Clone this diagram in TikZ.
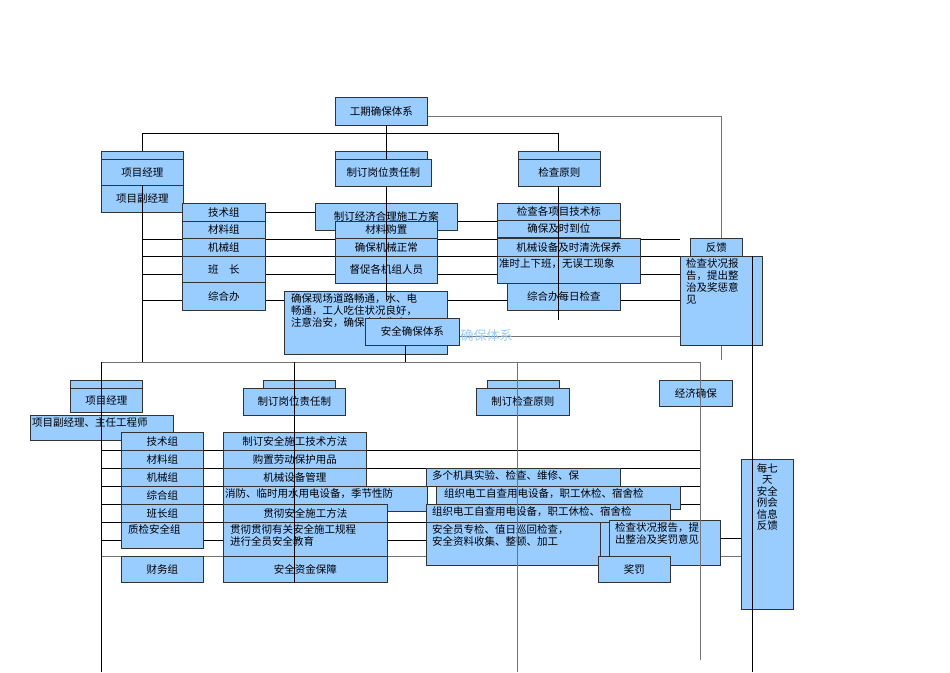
\documentclass[tikz,border=0pt]{standalone}
\usepackage{fontspec}
\newfontfamily\cjk{Noto Sans CJK SC}
\begin{document}
\begin{tikzpicture}[x=1pt,y=-1pt,
  box/.style={draw=black!80,line width=0.8pt,fill=bfill,anchor=north west,inner sep=1pt,font=\cjk\fontsize{10.5}{11}\selectfont},
  lab/.style={anchor=north west,font=\cjk\fontsize{10.5}{12}\selectfont,align=left,inner sep=2pt},
  ln/.style={draw=black,line width=0.7pt},
  gl/.style={draw=black!55,line width=0.9pt}]
\definecolor{bfill}{HTML}{99CCFF}
\newcommand\bx[6]{\node[box,minimum width={#4pt-#2pt},minimum height={#5pt-#3pt}] (#1) at (#2,#3) {#6};}
\newcommand\bxt[7]{\node[box,minimum width={#4pt-#2pt},minimum height={#5pt-#3pt},label={[lab]north west:{#7}}] (#1) at (#2,#3) {#6};}
\useasboundingbox (0,0) rectangle (950,672);
% horizontal lines (behind)
\draw[ln] (142,133) -- (558,133);
\draw[ln] (265,212) -- (315,212);
\draw[ln] (457,221) -- (497,221);
\foreach \y in {239,256,274,300} \draw[ln] (142,\y) -- (680,\y);
\draw[ln] (620,256) -- (762,256);
\draw[gl] (459,336) -- (752,336);
\draw[gl] (427,116) -- (721,116) -- (721,360);
\draw[gl] (101,362) -- (700,362);
\foreach \y in {450,468,486,504,522,540} \draw[ln] (101,\y) -- (700,\y);
\draw[ln] (720,538) -- (741,538);
\draw[gl] (101,556) -- (752,556);
% top boxes
\bx{zz1}{101}{151}{183}{160}{}
\bx{pm1}{101}{159}{183}{185}{项目经理}
\bx{vpm1}{101}{185}{183}{212}{项目副经理}
\bx{top}{335}{97}{427}{125}{工期确保体系}
\bx{gz1}{335}{151}{427}{160}{}
\bx{gw1}{335}{159}{431}{186}{制订岗位责任制}
\bx{jc1}{518}{151}{600}{160}{}
\bx{jy1}{518}{159}{600}{186}{检查原则}
\bx{a1}{182}{203}{265}{221}{技术组}
\bx{a2}{182}{221}{265}{238}{材料组}
\bx{a3}{182}{238}{265}{256}{机械组}
\bx{a4}{182}{256}{265}{282}{班\quad 长}
\bx{a5}{182}{282}{265}{310}{综合办}
\bx{b1}{315}{203}{457}{230}{制订经济合理施工方案}
\bx{b2}{335}{221}{437}{238}{材料购置}
\bx{b3}{335}{238}{437}{256}{确保机械正常}
\bx{b4}{335}{256}{437}{283}{督促各机组人员}
\bxt{b5}{284}{291}{447}{354}{}{\hspace{5pt}确保现场道路畅通，水、电\\\hspace{5pt}畅通，工人吃住状况良好，\\\hspace{5pt}注意治安，确保安全生产}
\bx{aq}{365}{318}{459}{345}{安全确保体系}
\node[font=\cjk\fontsize{13}{13}\selectfont,text=bfill,anchor=west] (wm) at (457,336) {确保体系};
\bx{c1}{497}{203}{620}{220}{检查各项目技术标}
\bx{c2}{497}{220}{620}{237}{确保及时到位}
\bx{c3}{497}{238}{640}{256}{机械设备及时清洗保养}
\bxt{c4}{497}{256}{640}{283}{}{准时上下班，无误工现象}
\bx{c5}{507}{283}{620}{310}{综合办每日检查}
\bx{fk}{690}{238}{742}{256}{反馈}
\bxt{fk2}{680}{256}{762}{345}{}{\hspace{4pt}检查状况报\\\hspace{4pt}告，提出整\\\hspace{4pt}治及奖惩意\\\hspace{4pt}见}
% bottom boxes
\bx{zz2}{70}{380}{142}{389}{}
\bx{pm2}{70}{388}{142}{412}{项目经理}
\bxt{vpm2}{30}{415}{173}{440}{}{项目副经理、主任工程师}
\bx{d1}{121}{432}{203}{450}{技术组}
\bx{d2}{121}{450}{203}{468}{材料组}
\bx{d3}{121}{468}{203}{486}{机械组}
\bx{d4}{121}{486}{203}{504}{综合组}
\bx{d5}{121}{504}{203}{522}{班长组}
\bxt{d6}{121}{522}{203}{548}{}{\hspace{5pt}质检安全组}
\bx{d7}{121}{556}{203}{582}{财务组}
\bx{gz2}{263}{380}{335}{389}{}
\bx{gw2}{243}{388}{345}{415}{制订岗位责任制}
\bx{e1}{223}{432}{366}{450}{制订安全施工技术方法}
\bx{e2}{223}{450}{366}{468}{购置劳动保护用品}
\bx{e3}{223}{468}{366}{486}{机械设备管理}
\bxt{e4}{223}{486}{427}{511}{}{消防、临时用水用电设备，季节性防}
\bx{e5}{223}{504}{387}{522}{贯彻安全施工方法}
\bxt{e6}{223}{522}{387}{556}{}{\hspace{5pt}贯彻贯彻有关安全施工规程\\\hspace{5pt}进行全员安全教育}
\bx{e7}{223}{556}{387}{582}{安全资金保障}
\bx{jc2}{487}{380}{559}{389}{}
\bx{jy2}{476}{388}{569}{415}{制订检查原则}
\bx{jj}{659}{380}{732}{406}{经济确保}
\bx{f0}{426}{522}{720}{565}{}
\bxt{f1}{426}{468}{620}{486}{}{\hspace{4pt}多个机具实验、检查、维修、保}
\bxt{f2}{436}{486}{680}{509}{}{\hspace{6pt}组织电工自查用电设备，职工休检、宿舍检}
\bxt{f3}{426}{504}{670}{522}{}{\hspace{4pt}组织电工自查用电设备，职工休检、宿舍检}
\bxt{f4}{426}{522}{600}{565}{}{\hspace{4pt}安全员专检、值日巡回检查，\\\hspace{4pt}安全资料收集、整顿、加工}
\bxt{f5}{609}{520}{720}{565}{}{\hspace{4pt}检查状况报告，提\\\hspace{4pt}出整治及奖罚意见}
\bx{f6}{598}{556}{670}{582}{奖罚}
\node[box,minimum width=52pt,minimum height=150pt,label={[anchor=north,font=\cjk\fontsize{10.5}{11.5}\selectfont,align=center,inner sep=4pt]north:{每七\\天\\安全\\例会\\信息\\反馈}}] (wk) at (741,459) {};
% vertical lines (over)
\draw[ln] (386,125) -- (386,133) (386,133) -- (386,159);
\draw[ln] (142,133) -- (142,151);
\draw[ln] (558,133) -- (558,151);
\draw[ln] (386,186) -- (386,300);
\draw[ln] (558,186) -- (558,320);
\draw[ln] (142,185) -- (142,362);
\draw[ln] (405,345) -- (405,362);
\draw[ln] (101,362) -- (101,672);
\draw[ln] (294,362) -- (294,582);
\draw[gl] (517,362) -- (517,672);
\draw[gl] (700,362) -- (700,660);
\draw[ln] (752,256) -- (752,672);
\end{tikzpicture}
\end{document}
